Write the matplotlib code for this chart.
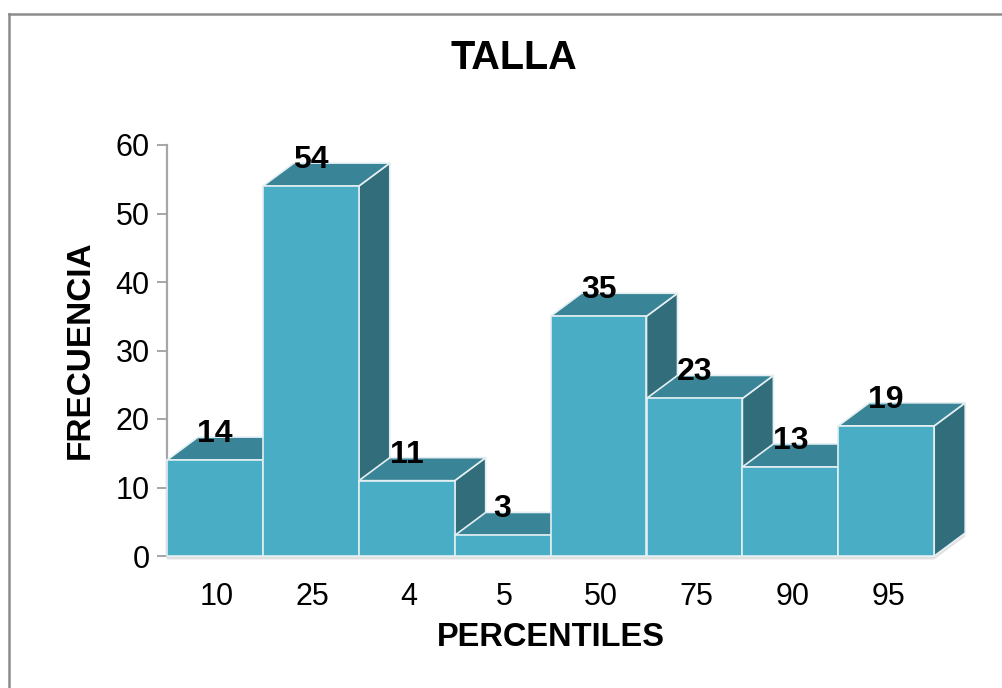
import matplotlib
matplotlib.use("Agg")
import matplotlib.pyplot as plt
from matplotlib.patches import Polygon, Rectangle

plt.rcParams['font.family'] = ['Liberation Sans', 'DejaVu Sans']

categories = ['10', '25', '4', '5', '50', '75', '90', '95']
values = [14, 54, 11, 3, 35, 23, 13, 19]
y_ticks = [0, 10, 20, 30, 40, 50, 60]

FRONT = '#4AADC6'
TOP = '#3A8497'
SIDE = '#316D7B'
EDGE = '#E3EFF2'

W, H = 1002, 688
fig = plt.figure(figsize=(W / 100, H / 100), dpi=100)

# pixel scale of the plotting area
x0_px, xunit_px = 167, 95.9
y0_px, yunit_px = 556, 6.85
xmax, ymax = 8.5, 62
ax = fig.add_axes([x0_px / W, (H - y0_px) / H,
                   xmax * xunit_px / W, ymax * yunit_px / H])
ax.set_xlim(0, xmax)
ax.set_ylim(0, ymax)

# depth of the 3-D extrusion in data units
dx = 31 / xunit_px
dy = 23 / yunit_px

# soft shadow under the floor of the bars
ax.add_patch(Polygon([(0, -0.15), (len(values), -0.15), (len(values) + dx, dy - 0.15),
                      (len(values) + dx, dy - 0.5), (len(values), -0.5), (0, -0.5)],
                     closed=True, facecolor='#E0E0E0', edgecolor='none',
                     clip_on=False, zorder=1))

for i, v in enumerate(values):
    xl, xr = i, i + 1
    side = Polygon([(xr, 0), (xr + dx, dy), (xr + dx, v + dy), (xr, v)],
                   closed=True, facecolor=SIDE, edgecolor=EDGE, lw=1.2,
                   joinstyle='round', clip_on=False, zorder=2 + i * 3)
    top = Polygon([(xl, v), (xl + dx, v + dy), (xr + dx, v + dy), (xr, v)],
                  closed=True, facecolor=TOP, edgecolor=EDGE, lw=1.2,
                  joinstyle='round', clip_on=False, zorder=3 + i * 3)
    front = Rectangle((xl, 0), 1, v, facecolor=FRONT, edgecolor=EDGE, lw=1.2,
                      clip_on=False, zorder=4 + i * 3)
    ax.add_patch(side)
    ax.add_patch(top)
    ax.add_patch(front)
    ax.text(i + 0.5, v + 18 / yunit_px, str(v), ha='center', va='baseline',
            fontsize=23, fontweight='bold', color='black', zorder=100)
    ax.text(i + 0.5 + 0.02, -49 / yunit_px, categories[i], ha='center',
            va='baseline', fontsize=22, color='black')

for s in ['top', 'right', 'bottom']:
    ax.spines[s].set_visible(False)
ax.spines['left'].set_bounds(0, 60)
ax.spines['left'].set_color('#A6A6A6')
ax.spines['left'].set_linewidth(1.6)
ax.set_yticks(y_ticks)
ax.set_yticklabels([str(t) for t in y_ticks], fontsize=22)
ax.tick_params(axis='y', direction='out', length=7.5, width=1.4,
               color='#A6A6A6', pad=5)
ax.set_xticks([])
ax.patch.set_visible(False)

# chart frame
fig.add_artist(plt.Line2D([9 / W, 9 / W], [0, 1 - 14 / H], color='#8C8C8C',
                          lw=1.8, transform=fig.transFigure))
fig.add_artist(plt.Line2D([9 / W, 1], [1 - 14 / H, 1 - 14 / H], color='#8C8C8C',
                          lw=1.8, transform=fig.transFigure))

fig.text(514 / W, 1 - 58 / H, 'TALLA', ha='center', va='center',
         fontsize=28.5, fontweight='bold')
fig.text(551 / W, 1 - 638 / H, 'PERCENTILES', ha='center', va='center',
         fontsize=23.5, fontweight='bold')
fig.text(80 / W, 1 - 350 / H, 'FRECUENCIA', ha='center', va='center',
         rotation=90, fontsize=24, fontweight='bold')

fig.savefig('out.png', dpi=100, facecolor='white')
